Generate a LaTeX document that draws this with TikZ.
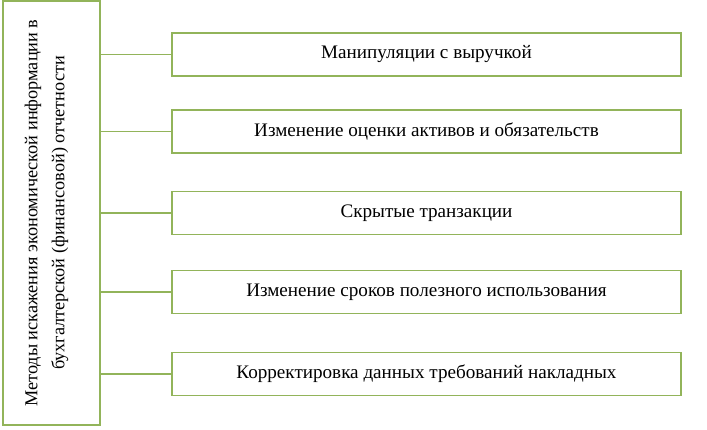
\documentclass[tikz,border=0pt]{standalone}
\usepackage{fontspec}
\setmainfont{Liberation Serif}
\definecolor{boxgreen}{RGB}{146,180,90}
\begin{document}
\begin{tikzpicture}[x=1bp,y=-1bp,
  box/.style={draw=boxgreen,line width=1.3bp,rectangle,inner sep=0pt,
    minimum width=509bp,minimum height=43bp,font=\fontsize{19.2}{22}\selectfont},
  mainbox/.style={draw=boxgreen,line width=1.3bp,rectangle,inner sep=0pt,
    minimum width=97bp,minimum height=424bp},
  conn/.style={draw=boxgreen,line width=1.3bp}]
\useasboundingbox (0,0) rectangle (707,429);
\node[mainbox] (main) at (51.5,213) {};
\node[rotate=90,align=center,font=\fontsize{18.3}{27}\selectfont] (maintext) at (46.5,213)
  {Методы искажения экономической информации в\\бухгалтерской (финансовой) отчетности};
\node[box] (b1) at (426.5,54.5) {Манипуляции с выручкой};
\node[box] (b2) at (426.5,131.5) {Изменение оценки активов и обязательств};
\node[box] (b3) at (426.5,213) {Скрытые транзакции};
\node[box] (b4) at (426.5,292) {Изменение сроков полезного использования};
\node[box] (b5) at (426.5,374) {Корректировка данных требований накладных};
\foreach \b in {b1,b2,b3,b4,b5}
  \draw[conn] (main.east |- \b.west) -- (\b.west);
\end{tikzpicture}
\end{document}
